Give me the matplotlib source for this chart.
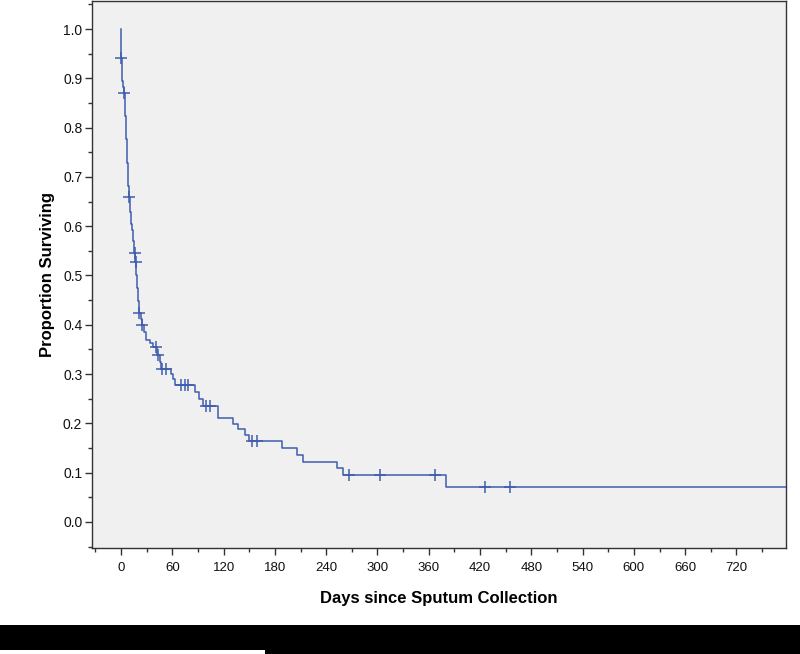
import numpy as np
import matplotlib
matplotlib.use("Agg")
import matplotlib.pyplot as plt
from matplotlib.patches import Rectangle
from matplotlib.ticker import MultipleLocator

# Kaplan-Meier step curve (survival after each step)
step_days = [0, 0, 0.8, 1.5, 2.0, 3.5, 4.5, 5.0, 5.5, 6.0, 6.5, 7.5, 8.0, 8.5, 9.0,
             10.5, 11.0, 11.5, 12.0, 13.0, 13.5, 14.0, 15.0, 15.5, 16.5, 17.5, 18.0,
             18.5, 19.0, 19.5, 20.0, 20.5, 21.0, 23.0, 24.0, 27.0, 29.0, 34.0, 37.0,
             42.0, 45.0, 47.0, 59.0, 61.0, 63.0, 86.5, 91.0, 96.0, 114.0, 130.5,
             137.0, 145.0, 150.0, 188.5, 205.5, 213.0, 252.5, 260.0, 380.0, 800.0]
step_surv = [1.0, 0.942, 0.909, 0.894, 0.882, 0.870, 0.847, 0.823, 0.800, 0.776,
             0.753, 0.729, 0.706, 0.682, 0.659, 0.641, 0.629, 0.617, 0.605, 0.593,
             0.581, 0.569, 0.557, 0.545, 0.527, 0.514, 0.501, 0.488, 0.475, 0.462,
             0.449, 0.437, 0.424, 0.412, 0.400, 0.385, 0.370, 0.362, 0.355, 0.338,
             0.324, 0.311, 0.301, 0.289, 0.277, 0.264, 0.250, 0.236, 0.210, 0.198,
             0.188, 0.176, 0.164, 0.149, 0.136, 0.122, 0.109, 0.095, 0.070, 0.070]

# Censored observations (days)
censor_days = [0.3, 3.6, 9.6, 15.8, 17.2, 21.4, 25.0, 41.0, 43.0, 47.6, 52.6,
               70.0, 75.0, 78.0, 99.5, 104.0, 153.0, 159.0, 266.5, 303.0, 367.0,
               426.0, 455.0]

x_ticks = [0, 60, 120, 180, 240, 300, 360, 420, 480, 540, 600, 660, 720]
y_ticks = [0.0, 0.1, 0.2, 0.3, 0.4, 0.5, 0.6, 0.7, 0.8, 0.9, 1.0]

line_color = "#3F5DAE"

fig = plt.figure(figsize=(8.0, 6.54), dpi=100)
ax = fig.add_axes([92/800, (654-548)/654, (786-92)/800, 547/654])
ax.set_facecolor("#F0F0F0")

sd = np.array(step_days)
ss = np.array(step_surv)
ax.step(sd, ss, where="post", color=line_color, lw=1.1, zorder=3)

cd = np.array(censor_days)
idx = np.searchsorted(sd, cd, side="right") - 1
cs = ss[idx]
ax.plot(cd, cs, linestyle="none", marker="+", markersize=8, mew=1.1,
        color=line_color, zorder=4)

ax.set_xlim(-34, 778)
ax.set_ylim(-0.053, 1.057)
ax.set_xticks(x_ticks)
ax.set_yticks(y_ticks)
ax.set_yticklabels([f"{v:.1f}" for v in y_ticks])
ax.xaxis.set_minor_locator(MultipleLocator(30))
ax.yaxis.set_minor_locator(MultipleLocator(0.05))

for s in ax.spines.values():
    s.set_color("#333333")
    s.set_linewidth(1.0)

ax.tick_params(axis="both", which="major", direction="out", length=5,
               width=1.0, color="#333333", labelcolor="#111111")
ax.tick_params(axis="both", which="minor", direction="out", length=3,
               width=1.0, color="#333333")
ax.tick_params(axis="y", labelsize=10, pad=2)
ax.tick_params(axis="x", labelsize=9.5, pad=5)

for lab in ax.get_yticklabels():
    lab.set_family(["Liberation Sans", "DejaVu Sans"])
for lab in ax.get_xticklabels():
    lab.set_family(["Liberation Sans Narrow", "Liberation Sans", "DejaVu Sans"])

ax.set_xlabel("Days since Sputum Collection", fontsize=12, fontweight="bold",
              family=["Liberation Sans", "DejaVu Sans"], labelpad=12)
ax.set_ylabel("Proportion Surviving", fontsize=12, fontweight="bold",
              family=["Liberation Sans", "DejaVu Sans"], labelpad=6)

# black band at the bottom of the image
fig.patches.append(Rectangle((0, 0), 1, 29/654, transform=fig.transFigure,
                             facecolor="black", edgecolor="none", zorder=0))
fig.patches.append(Rectangle((0, 0), 265/800, 4/654, transform=fig.transFigure,
                             facecolor="white", edgecolor="none", zorder=1))

fig.savefig("out.png", dpi=100, facecolor="white")
